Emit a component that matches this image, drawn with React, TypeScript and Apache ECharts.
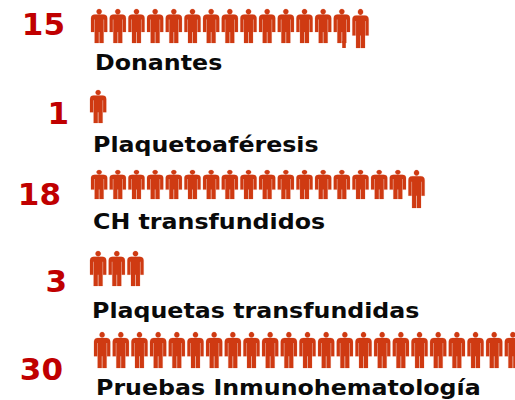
import React, { useEffect, useRef } from "react";
import * as echarts from "echarts";

const categories = ["Donantes", "Plaquetoaféresis", "CH transfundidos", "Plaquetas transfundidas", "Pruebas Inmunohematología"];
const counts = [15, 1, 18, 3, 30];

const rowLeft = [91, 90, 91, 90, 94];
const rowTop = [9, 90, 170, 251, 332];
const rowHeight = [34, 33, 29, 35, 36];
const lastExtra = [5, 0, 9, 0, 0];
const numRight = [65, 69, 61, 67, 63];
const numY = [24, 113, 194, 281, 369];
const labelX = [95, 93, 93, 92, 96];
const labelY = [63, 145, 222, 311, 388];

const SPACING = 18.67;
const PERSON =
  "M8 0a2.6 2.6 0 1 0 .01 0z M3.8 5.6H12.2Q16 5.6 16 9.2V23H12.9V10.5H12.4V34H8.35V23H7.65V34H3.6V10.5H3.1V23H0V9.2Q0 5.6 3.8 5.6z";

function personElement(x: number, y: number, w: number, h: number, fill: string) {
  return {
    type: "path",
    shape: { pathData: PERSON, x, y, width: w, height: h, layout: "cover" },
    style: { fill, stroke: "rgba(207,58,18,0.3)", lineWidth: 0.6 },
  };
}

export default function App() {
  const ref = useRef<HTMLDivElement>(null);
  useEffect(() => {
    document.body.style.margin = "0";
    const chart = echarts.init(ref.current!, undefined, { renderer: "svg" });
    const grid = counts.map((_, i) => ({
      left: rowLeft[i],
      top: rowTop[i],
      width: 30 * SPACING,
      height: rowHeight[i],
      outerBoundsMode: "none",
    }));
    const xAxis = counts.map((_, i) => ({ gridIndex: i, type: "value", min: 0, max: 30, show: false }));
    const yAxis = counts.map((_, i) => ({ gridIndex: i, type: "value", min: 0, max: 1, show: false }));
    const series = counts.map((n, i) => ({
      type: "custom",
      xAxisIndex: i,
      yAxisIndex: i,
      clip: false,
      silent: true,
      data: Array.from({ length: n }, (_, k) => [k, 1]),
      renderItem: (_p: any, api: any) => {
        const k = api.value(0);
        const [x0, y0] = api.coord([k, 1]);
        const [x1, y1] = api.coord([k + 1, 0]);
        const extra = k === n - 1 ? lastExtra[i] : 0;
        const children: any[] = [personElement(x0, y0, x1 - x0 - 2.4, y1 - y0 + extra, "#cf3a12")];
        if (i === 0 && k === 13) {
          children.push({
            type: "rect",
            shape: { x: x0 + 8.5, y: y1 - 2, width: 3.6, height: 7 },
            style: { fill: "#cf3a12" },
          });
        }
        return { type: "group", children };
      },
    }));
    const graphic = counts.flatMap((n, i) => [
      {
        type: "text",
        x: numRight[i],
        y: numY[i],
        style: {
          text: String(n),
          fill: "#c00000",
          font: "bold 31px 'DejaVu Sans'",
          textAlign: "right",
          textVerticalAlign: "middle",
        },
      },
      {
        type: "text",
        x: labelX[i],
        y: labelY[i],
        scaleX: 1.13,
        style: {
          text: categories[i],
          fill: "#0a0a0a",
          font: "bold 21px 'DejaVu Sans'",
          textAlign: "left",
          textVerticalAlign: "middle",
        },
      },
    ]);
    chart.setOption({ animation: false, backgroundColor: "#fff", grid, xAxis, yAxis, series, graphic });
    return () => chart.dispose();
  }, []);
  return <div ref={ref} style={{ width: 515, height: 400 }} />;
}
